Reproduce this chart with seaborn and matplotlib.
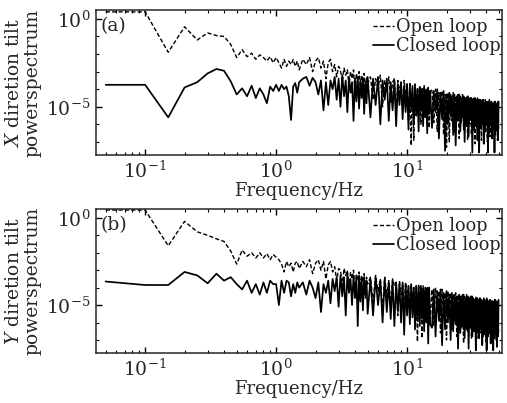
import numpy as np
import pandas as pd
import matplotlib
matplotlib.use("Agg")
import matplotlib.pyplot as plt
import seaborn as sns
from matplotlib.ticker import LogLocator, FixedLocator, NullFormatter

# ---------------- data (log10 of power) ----------------
freq = np.round(np.concatenate([
    np.arange(1, 31) * 0.05,     # 0.05 .. 1.5
    np.arange(16, 51) * 0.1,     # 1.6 .. 5.0
    np.arange(21, 61) * 0.25,    # 5.25 .. 15
    np.arange(31, 101) * 0.5,    # 15.5 .. 50
]), 3)

x_open_log = [
    0.4, 0.4, -1.9, -0.45, -1.2, -0.8, -0.95, -1.0, -1.45, -2.2,
    -1.75, -2.15, -1.95, -2.3, -2.05, -2.2, -2.4, -2.15, -2.5, -2.2,
    -2.5, -2.8, -2.3, -2.7, -2.4, -2.6, -2.3, -2.7, -2.4, -2.9,
    -2.3, -2.6, -2.2, -3.0, -2.4, -2.2, -2.8, -2.4, -3.4, -2.5,
    -2.3, -3.0, -2.6, -3.3, -2.7, -2.9, -3.6, -2.8, -3.2, -2.9,
    -3.8, -3.0, -3.4, -2.9, -4.2, -3.1, -3.5, -3.0, -3.9, -3.2,
    -3.6, -3.1, -4.4, -3.3, -3.7,
    -3.3, -4.6, -3.4, -3.9, -3.2, -5.0, -3.5, -4.1, -3.3, -4.8,
    -3.6, -3.4, -5.4, -3.5, -4.2, -3.6, -5.1, -3.5, -4.4, -3.7,
    -5.8, -3.6, -7.2, -3.8, -6.9, -3.7, -5.5, -3.9, -4.6, -3.8,
    -6.0, -3.9, -4.8, -3.8, -5.6, -4.0, -4.5, -3.9, -6.2, -4.0,
    -4.1, -5.9, -4.0, -6.4, -4.2, -5.2, -4.1, -6.6, -4.3, -7.3,
    -4.2, -7.0, -4.3, -5.8, -4.2, -6.5, -4.4, -5.4, -4.3, -6.8,
    -4.4, -5.9, -4.3, -6.3, -4.5, -5.5, -4.4, -6.9, -4.5, -6.0,
    -4.4, -6.6, -4.6, -5.6, -4.5, -7.1, -4.6, -6.2, -4.5, -6.5,
    -4.7, -5.8, -4.6, -6.9, -4.6, -6.1, -4.7, -6.6, -4.6, -5.9,
    -4.8, -7.0, -4.7, -6.3, -4.6, -6.7, -4.8, -5.9, -4.7, -6.8,
    -4.8, -6.2, -4.7, -6.6, -4.9, -6.0, -4.8, -6.9, -4.7, -6.4,
]
x_closed_log = [
    -3.75, -3.75, -5.6, -3.9, -3.6, -3.1, -2.85, -2.95, -3.55, -4.3,
    -3.95, -4.4, -3.8, -4.5, -3.95, -4.3, -4.8, -3.85, -4.1, -3.75,
    -4.1, -3.75, -4.0, -3.85, -4.4, -5.75, -3.85, -3.65, -4.2, -3.6,
    -3.4, -3.3, -3.8, -3.35, -3.6, -4.3, -3.5, -5.2, -3.6, -4.9,
    -3.5, -4.0, -3.3, -4.6, -3.4, -5.0, -3.2, -4.4, -3.5, -5.3,
    -3.3, -4.2, -3.6, -5.8, -3.4, -4.7, -3.3, -5.1, -3.5, -4.5,
    -3.4, -5.4, -3.6, -4.8, -3.3,
    -5.6, -3.4, -4.9, -3.3, -6.0, -3.5, -4.6, -3.4, -5.8, -3.6,
    -5.2, -3.5, -6.1, -3.7, -4.9, -3.6, -5.7, -3.8, -5.3, -3.7,
    -6.3, -3.8, -5.1, -3.9, -6.0, -3.8, -5.5, -4.0, -6.4, -3.9,
    -5.2, -4.0, -6.1, -3.9, -5.6, -4.1, -6.5, -4.0, -5.4, -4.1,
    -6.2, -4.1, -5.3, -4.0, -6.8, -4.2, -5.7, -4.1, -7.5, -4.3,
    -6.0, -4.2, -5.5, -4.4, -6.6, -4.3, -7.2, -4.4, -5.8, -4.3,
    -6.4, -4.5, -5.6, -4.4, -7.0, -4.5, -6.1, -4.4, -6.7, -4.6,
    -5.7, -4.5, -7.6, -4.6, -6.3, -4.5, -5.9, -4.7, -6.9, -4.6,
    -7.6, -4.6, -6.2, -4.7, -5.8, -4.6, -7.1, -4.8, -6.4, -4.7,
    -6.0, -4.8, -7.6, -4.7, -6.5, -4.8, -5.9, -4.7, -6.8, -4.9,
    -6.2, -4.8, -7.6, -4.7, -6.4, -4.9, -6.0, -4.8, -6.9, -4.7,
]
y_open_log = [
    0.45, 0.45, -1.6, -0.2, -0.8, -1.0, -1.2, -1.35, -1.9, -2.65,
    -1.85, -2.2, -2.0, -2.3, -2.0, -2.3, -2.05, -2.4, -2.1, -2.25,
    -2.4, -2.65, -3.1, -2.5, -2.8, -2.6, -3.1, -2.6, -2.5, -2.9,
    -2.5, -2.8, -2.4, -3.2, -2.6, -2.4, -3.0, -2.5, -3.5, -2.7,
    -2.5, -3.1, -2.8, -3.6, -2.9, -3.0, -3.9, -2.9, -3.3, -3.0,
    -4.1, -3.1, -3.5, -3.0, -4.5, -3.2, -3.6, -3.1, -4.0, -3.3,
    -3.7, -3.2, -4.6, -3.4, -3.8,
    -3.4, -4.8, -3.3, -4.2, -3.5, -5.3, -3.4, -4.5, -3.6, -5.0,
    -3.5, -3.9, -3.7, -5.6, -3.6, -4.4, -3.8, -5.2, -3.7, -4.6,
    -3.9, -5.8, -3.8, -4.9, -4.0, -5.4, -3.9, -7.1, -3.8, -5.0,
    -4.0, -6.9, -3.9, -4.7, -4.1, -5.6, -4.0, -5.1, -4.2, -6.0,
    -4.1, -6.2, -4.0, -5.4, -4.2, -6.6, -4.1, -5.8, -4.3, -7.0,
    -4.2, -5.5, -4.3, -6.4, -4.4, -5.9, -4.3, -6.8, -4.4, -5.6,
    -4.5, -6.3, -4.4, -7.2, -4.5, -5.8, -4.4, -6.5, -4.6, -6.0,
    -4.5, -6.9, -4.5, -5.7, -4.6, -6.4, -4.5, -7.0, -4.6, -6.1,
    -4.7, -6.6, -4.6, -5.9, -4.7, -6.8, -4.6, -6.2, -4.7, -7.1,
    -4.6, -6.0, -4.8, -6.5, -4.7, -5.9, -4.8, -6.9, -4.7, -6.3,
    -4.8, -6.7, -4.7, -6.1, -4.8, -7.0, -4.7, -6.4, -4.8, -6.6,
]
y_closed_log = [
    -3.65, -3.85, -3.85, -3.1, -3.3, -3.75, -3.2, -3.6, -3.4, -3.8,
    -4.1, -3.6, -4.3, -3.8, -4.4, -3.7, -4.3, -3.6, -3.8, -3.8,
    -5.0, -3.6, -4.3, -3.6, -3.7, -4.5, -3.8, -4.3, -3.7, -4.0,
    -3.7, -4.4, -3.6, -4.0, -4.6, -3.7, -5.4, -3.8, -4.3, -3.6,
    -4.9, -3.5, -4.2, -3.4, -5.1, -3.3, -4.5, -3.4, -5.6, -3.2,
    -4.3, -3.5, -5.0, -3.3, -4.6, -3.4, -6.2, -3.3, -4.8, -3.5,
    -5.3, -3.4, -4.4, -3.6, -5.5,
    -3.5, -5.6, -3.4, -5.0, -3.6, -6.0, -3.5, -5.4, -3.7, -5.8,
    -3.6, -6.2, -3.7, -5.3, -3.8, -6.0, -3.7, -6.7, -3.8, -5.6,
    -3.9, -6.1, -3.8, -5.7, -4.0, -6.4, -3.9, -5.9, -4.0, -6.2,
    -3.9, -5.8, -4.1, -6.5, -4.0, -6.0, -4.1, -7.2, -4.0, -6.1,
    -6.3, -4.1, -6.8, -4.2, -5.9, -4.1, -7.3, -4.3, -6.4, -4.2,
    -6.0, -4.4, -7.0, -4.3, -6.5, -4.4, -6.1, -4.5, -7.5, -4.4,
    -6.6, -4.5, -6.2, -4.4, -6.9, -4.6, -6.4, -4.5, -7.5, -4.6,
    -6.3, -4.5, -6.8, -4.6, -6.5, -4.7, -7.6, -4.6, -6.6, -4.7,
    -6.9, -4.6, -6.4, -4.7, -7.3, -4.8, -6.7, -4.7, -6.5, -4.8,
    -7.6, -4.7, -6.8, -4.8, -6.6, -4.7, -7.2, -4.8, -6.7, -4.9,
    -7.6, -4.8, -6.9, -4.7, -6.5, -4.8, -7.4, -4.9, -6.8, -4.7,
]

panel_tags = ["(a)", "(b)"]
ylabels = ["$X$ diretion tilt\npowerspectrum", "$Y$ diretion tilt\npowerspectrum"]
series_labels = ["Open loop", "Closed loop"]
xlabel = "Frequency/Hz"

# ---------------- style ----------------
sns.set_style("ticks")
plt.rcParams["font.family"] = ["DejaVu Serif"]
plt.rcParams["mathtext.fontset"] = "dejavuserif"
plt.rcParams["axes.linewidth"] = 1.1

fig = plt.figure(figsize=(5.07, 4.03), dpi=100)
ax_a = fig.add_axes([0.189, 0.615, 0.801, 0.360])
ax_b = fig.add_axes([0.189, 0.124, 0.801, 0.357])

panels = [
    (ax_a, x_open_log, x_closed_log),
    (ax_b, y_open_log, y_closed_log),
]

for i, (ax, open_log, closed_log) in enumerate(panels):
    df = pd.DataFrame({
        "f": np.concatenate([freq, freq]),
        "p": 10.0 ** np.concatenate([np.array(open_log), np.array(closed_log)]),
        "loop": [series_labels[0]] * len(freq) + [series_labels[1]] * len(freq),
    })
    sns.lineplot(data=df[df.loop == series_labels[0]], x="f", y="p", ax=ax,
                 color="black", linewidth=1.0, linestyle=(0, (3, 1.6)),
                 estimator=None, sort=False, label=series_labels[0])
    sns.lineplot(data=df[df.loop == series_labels[1]], x="f", y="p", ax=ax,
                 color="black", linewidth=1.25, linestyle="-",
                 estimator=None, sort=False, label=series_labels[1])
    ax.set_xscale("log")
    ax.set_yscale("log")
    ax.set_xlim(0.042, 53)
    ax.set_ylim(10 ** -7.75, 10 ** 0.5)
    ax.yaxis.set_major_locator(FixedLocator([1e0, 1e-5]))
    ax.yaxis.set_minor_locator(LogLocator(base=10, subs=(1.0,), numticks=30))
    ax.yaxis.set_minor_formatter(NullFormatter())
    ax.xaxis.set_minor_locator(LogLocator(base=10, subs=np.arange(2, 10), numticks=30))
    ax.xaxis.set_minor_formatter(NullFormatter())
    ax.tick_params(which="both", direction="in", top=True, right=True,
                   labelsize=13.5, color="black")
    ax.tick_params(which="major", length=4, width=1.0, pad=4)
    ax.tick_params(which="minor", length=2, width=0.8)
    ax.set_xlabel(xlabel, fontsize=13, labelpad=0)
    ax.set_ylabel(ylabels[i], fontsize=13.5, labelpad=3, linespacing=1.05)
    ax.text(0.012, 0.955, panel_tags[i], transform=ax.transAxes,
            fontsize=13.5, va="top", ha="left")
    leg = ax.legend(loc="upper right", bbox_to_anchor=(1.008, 0.975),
                    frameon=False, fontsize=12.8,
                    handlelength=1.2, handletextpad=0.1, borderaxespad=0.1,
                    labelspacing=0.05, borderpad=0.15)

fig.savefig("out.png", dpi=100)
